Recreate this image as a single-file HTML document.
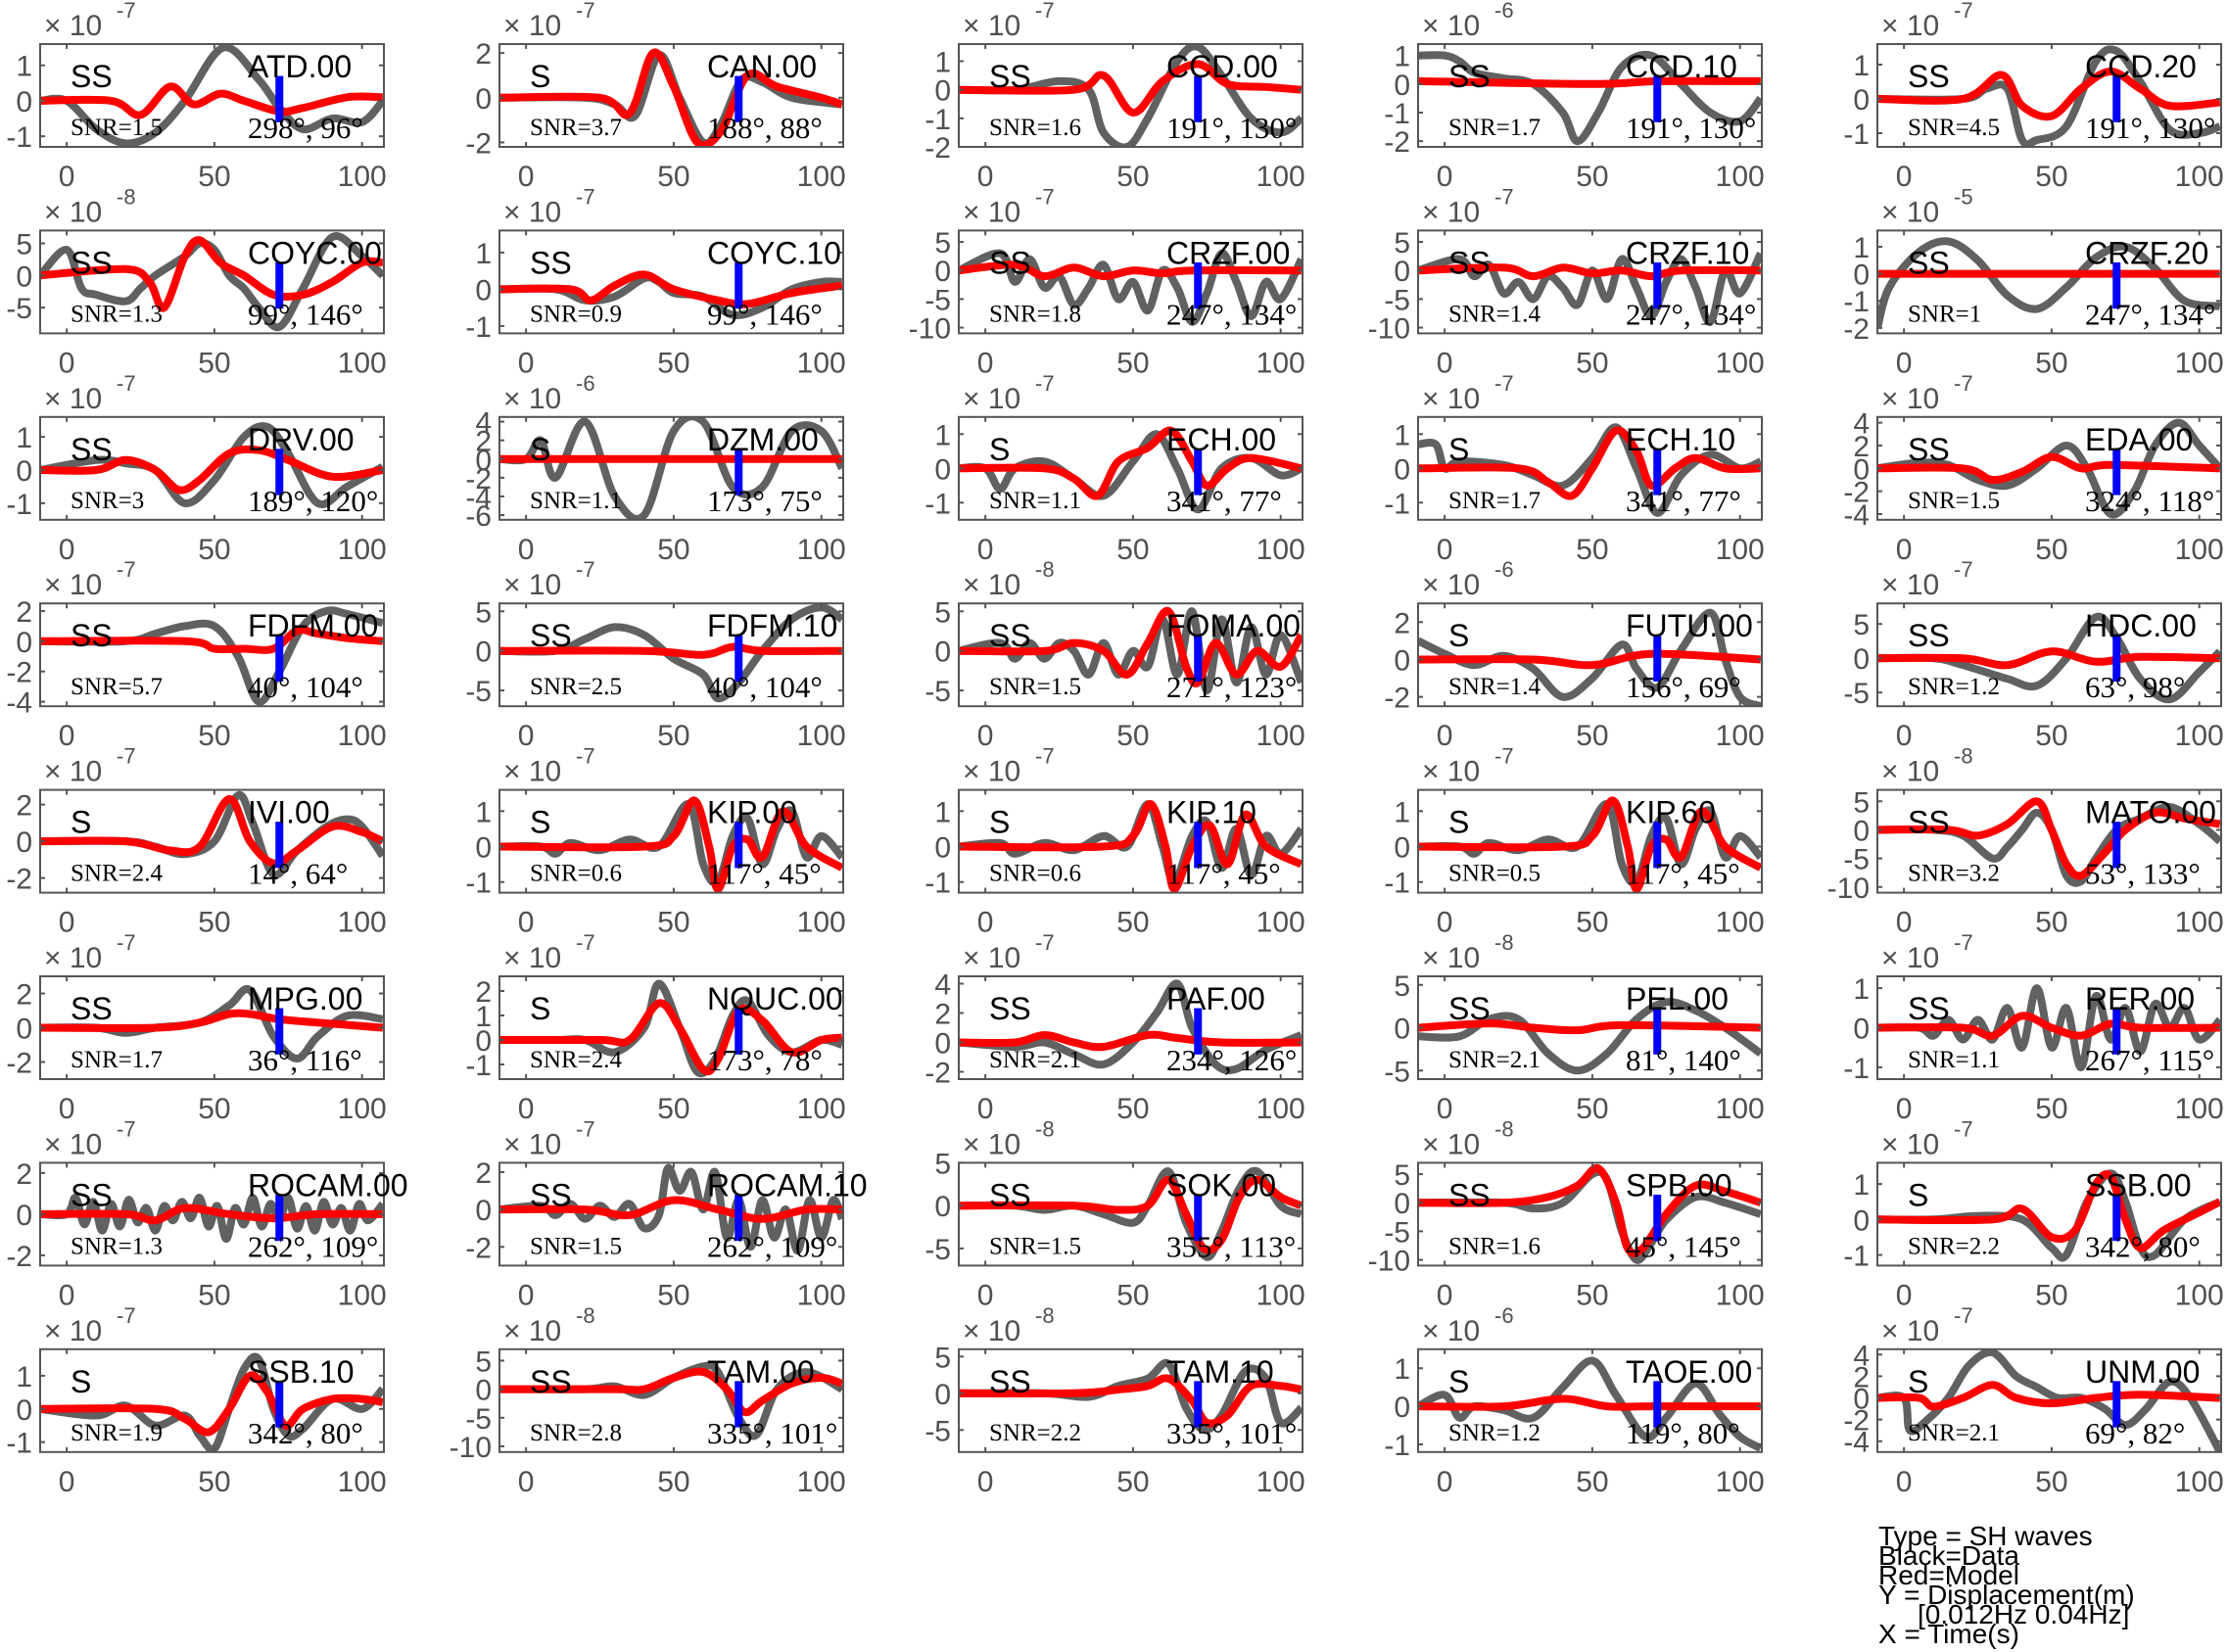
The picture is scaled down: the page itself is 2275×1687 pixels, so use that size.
<!DOCTYPE html>
<html><head><meta charset="utf-8">
<style>
html,body{margin:0;padding:0;background:#fff;}
svg{display:block;}
.tk{font-family:"Liberation Sans",sans-serif;font-size:30px;fill:#505050;}
.nm{font-family:"Liberation Sans",sans-serif;font-size:32px;fill:#000;}
.sr{font-family:"Liberation Serif",serif;fill:#000;}
.lg{font-family:"Liberation Sans",sans-serif;font-size:28px;fill:#000;}
</style></head><body>
<svg id="s" width="2275" height="1687" xmlns="http://www.w3.org/2000/svg"></svg>
<script>
const P=[
["ATD.00","SS","1.5","298°, 96°",-7,[1,0,-1],-1.3,1.6,
[[-9,0],[0,0],[10,-0.8],[20,-1.2],[30,-0.9],[40,0],[53,1.5],[65,0.6],[72,-0.2],[80,-0.8],[90,-0.5],[100,-0.6],[107,0]],
[[-9,0],[15,0],[25,-0.4],[35,0.4],[43,-0.1],[52,0.2],[60,0],[72,-0.3],[80,-0.2],[95,0.1],[107,0.1]]],
["CAN.00","S","3.7","188°, 88°",-7,[2,0,-2],-2.2,2.4,
[[-9,0],[20,0],[30,-0.3],[37,-0.8],[45,1.9],[52,0],[60,-2],[66,-1.2],[73,0.8],[80,0.7],[90,0],[107,-0.3]],
[[-9,0],[25,0],[35,-0.7],[43,2],[50,0.5],[58,-2],[66,-1.5],[75,1.0],[85,0.5],[100,0],[107,-0.3]]],
["CCD.00","SS","1.6","191°, 130°",-7,[1,0,-1,-2],-2,1.6,
[[-9,0],[10,0],[25,0.3],[35,0],[40,-1.5],[48,-2],[55,-1],[65,1],[72,1.5],[80,0.5],[90,-1],[100,-1.5],[107,-1]],
[[-9,0],[30,0],[40,0.5],[50,-0.8],[60,0.3],[72,0.9],[82,0.2],[95,0.1],[107,0]]],
["CCD.10","SS","1.7","191°, 130°",-6,[1,0,-1,-2],-2.2,1.4,
[[-9,1],[0,1],[5,0.8],[10,0.4],[20,0.2],[30,0],[40,-1],[45,-2],[52,-1],[60,0.6],[70,1],[80,0],[90,-1],[100,-1.3],[107,-0.5]],
[[-9,0.1],[50,0],[72,0.1],[107,0.1]]],
["CCD.20","SS","4.5","191°, 130°",-7,[1,0,-1],-1.4,1.6,
[[-9,0],[20,0],[28,0.3],[35,0.3],[40,-1.2],[45,-1.2],[55,-0.8],[65,1.1],[72,1.4],[80,0.5],[90,-0.9],[100,-1],[107,-0.8]],
[[-9,0],[20,0],[33,0.7],[40,-0.2],[50,-0.5],[60,0.3],[70,0.8],[80,0.3],[90,-0.2],[107,-0.1]]],
["COYC.00","SS","1.3","99°, 146°",-8,[5,0,-5],-9,7,
[[-9,0],[0,4],[5,-2],[10,-3],[20,-4],[25,-2],[30,0],[40,3],[45,5],[50,4],[55,0],[60,-2],[65,-5],[72,-8],[80,-2],[90,6],[100,3],[107,0]],
[[-9,0],[20,1],[28,-1],[33,-5],[40,3],[45,5.5],[52,2],[60,0],[70,-3],[80,-3],[90,-1],[100,2],[107,2]]],
["COYC.10","SS","0.9","99°, 146°",-7,[1,0,-1],-1.2,1.6,
[[-9,0],[10,0],[20,-0.3],[30,-0.2],[40,0.3],[45,0.2],[50,-0.1],[60,-0.2],[70,-0.7],[80,-0.5],[90,0],[100,0.2],[107,0.2]],
[[-9,0],[15,0],[22,-0.3],[30,0.1],[40,0.4],[50,0],[65,-0.3],[75,-0.4],[90,-0.1],[107,0.1]]],
["CRZF.00","SS","1.8","247°, 134°",-7,[5,0,-5,-10],-11,7,
[[-9,0],[5,3],[10,-2],[15,2],[20,-3],[25,-1],[30,-6],[35,-3],[40,1],[45,-5],[50,-2],[55,-7],[60,0],[65,-3],[70,-9],[75,-4],[80,3],[85,-2],[90,-8],[95,-2],[100,-5],[107,2]],
[[-9,0],[10,1],[20,-1],[30,0.5],[40,-1],[50,0],[60,-0.5],[70,0],[107,0]]],
["CRZF.10","SS","1.4","247°, 134°",-7,[5,0,-5,-10],-11,7,
[[-9,0],[5,2],[10,-1],[15,1],[20,-4],[25,-2],[30,-5],[35,-1],[40,-3],[45,-6],[50,0],[55,-5],[60,2],[65,-3],[70,-8],[75,-2],[80,2],[85,-3],[90,-9],[95,0],[100,-4],[107,3]],
[[-9,0],[20,0.5],[30,-1],[40,0.5],[50,-0.5],[60,0],[70,-1],[80,0],[107,0]]],
["CRZF.20","SS","1","247°, 134°",-5,[1,0,-1,-2],-2.2,1.6,
[[-9,-2],[-5,-0.5],[5,0.8],[15,1.2],[25,0.5],[35,-0.8],[45,-1.3],[55,-0.5],[65,0.6],[75,1],[85,0.2],[95,-1],[107,-1.2]],
[[-9,0],[107,0]]],
["DRV.00","SS","3","189°, 120°",-7,[1,0,-1],-1.5,1.6,
[[-9,0],[10,0.3],[20,0.2],[30,0],[40,-1],[50,-0.3],[60,1],[68,1.3],[75,0.5],[85,-1],[95,-0.5],[107,0.1]],
[[-9,0],[10,0],[20,0.3],[30,0],[38,-0.6],[45,-0.3],[55,0.5],[65,0.6],[75,0.3],[90,-0.2],[107,0]]],
["DZM.00","S","1.1","173°, 75°",-6,[4,2,0,-2,-4,-6],-6.5,4.5,
[[-9,0],[0,0],[5,2],[10,-2],[20,4],[30,-4],[40,-6],[50,3],[60,4],[70,-3],[80,-3],[90,3],[100,3],[107,-1]],
[[-9,0],[107,0]]],
["ECH.00","S","1.1","341°, 77°",-7,[1,0,-1],-1.5,1.5,
[[-9,0],[0,0],[5,-0.6],[10,0],[20,0.2],[30,-0.3],[40,-0.8],[50,0.2],[58,1],[65,0],[72,-1.2],[80,0],[90,0.3],[100,-0.2],[107,0]],
[[-9,0],[20,0],[30,-0.3],[38,-0.8],[45,0.2],[55,0.6],[63,1.1],[70,0.2],[75,-0.5],[82,0],[90,0.3],[107,0]]],
["ECH.10","S","1.7","341°, 77°",-7,[1,0,-1],-1.5,1.5,
[[-9,0.7],[-3,0.7],[0,0],[5,0.2],[20,0.1],[30,-0.2],[40,-0.5],[50,0.3],[58,1.2],[65,0],[72,-1.3],[80,-0.2],[90,0.4],[100,0],[107,0.2]],
[[-9,0],[25,0],[35,-0.4],[43,-0.8],[50,0],[58,1.1],[65,0.5],[70,-0.5],[78,0],[85,0.3],[95,0],[107,0]]],
["EDA.00","SS","1.5","324°, 118°",-7,[4,2,0,-2,-4],-4.5,4.5,
[[-9,0],[5,0.5],[15,0.3],[25,-1],[35,-1.5],[45,0],[55,2],[62,0],[70,-4],[78,-2],[85,2],[93,4],[100,2],[107,0]],
[[-9,0],[20,0],[30,-1],[40,-0.3],[50,1],[60,0],[70,0.3],[107,0]]],
["FDFM.00","SS","5.7","40°, 104°",-7,[2,0,-2,-4],-4.3,2.5,
[[-9,0],[20,0],[30,0.5],[40,1],[50,1],[58,-1],[65,-4],[72,-2],[80,1],[88,2],[95,1.8],[107,1.2]],
[[-9,0],[40,0],[50,-0.5],[60,-0.5],[70,-0.5],[78,0.7],[85,0.5],[95,0.2],[107,0]]],
["FDFM.10","SS","2.5","40°, 104°",-7,[5,0,-5],-7,6,
[[-9,0],[10,0],[20,1.5],[30,3],[40,2],[50,-1],[60,-3],[65,-6],[72,-4],[80,0],[90,4],[100,5.5],[107,4]],
[[-9,0],[40,0],[60,-0.5],[70,0.5],[80,0],[107,0]]],
["FOMA.00","SS","1.5","271°, 123°",-8,[5,0,-5],-7,6,
[[-9,0],[5,1],[10,-1],[15,1],[20,-1],[25,1],[30,0],[35,-3],[40,1],[45,-3],[50,0],[55,-2],[60,4],[65,-3],[70,5],[75,-5],[80,4],[85,-4],[90,3],[95,-3],[100,2],[107,-4]],
[[-9,0],[20,0],[30,1],[40,0],[48,-3],[55,1],[62,5],[68,-2],[72,-4],[78,1],[85,-3],[92,0],[100,-2],[107,2]]],
["FUTU.00","S","1.4","156°, 69°",-6,[2,0,-2],-2.5,3,
[[-9,1],[0,0.3],[10,-0.3],[20,0.2],[30,-0.5],[40,-2],[50,-1],[60,0.8],[65,-0.5],[72,-1.5],[80,0.5],[90,2.5],[95,0],[100,-2],[107,-2.5]],
[[-9,0],[30,0],[50,-0.3],[70,0.3],[107,0]]],
["HDC.00","SS","1.2","63°, 98°",-7,[5,0,-5],-7,8,
[[-9,0],[10,0],[20,-1],[35,-3],[45,-4],[55,0],[65,6],[72,3],[80,-3],[90,-6],[100,-2],[107,1]],
[[-9,0],[20,0],[35,-1],[50,1],[65,-0.5],[80,0.2],[107,0]]],
["IVI.00","S","2.4","14°, 64°",-7,[2,0,-2],-2.8,2.8,
[[-9,0],[20,0],[30,-0.3],[40,-0.7],[50,0],[58,2.5],[63,1],[70,-1.8],[78,-0.5],[88,0.8],[95,1.2],[100,0.8],[107,-0.8]],
[[-9,0],[20,0],[35,-0.5],[45,-0.3],[55,2.3],[62,0],[70,-1.2],[78,-0.5],[90,0.8],[100,0.5],[107,0]]],
["KIP.00","S","0.6","117°, 45°",-7,[1,0,-1],-1.3,1.6,
[[-9,0],[5,0],[10,-0.2],[15,0.1],[25,-0.1],[35,0.2],[45,0],[55,1.2],[60,-0.5],[65,-1],[70,0.3],[75,0.8],[80,-0.5],[85,0.5],[90,1],[95,-0.3],[100,0.3],[107,-0.3]],
[[-9,0],[40,0],[50,0.3],[57,1.3],[62,0],[65,-1.2],[70,0],[75,0.2],[80,-0.3],[87,1],[95,0],[107,-0.6]]],
["KIP.10","S","0.6","117°, 45°",-7,[1,0,-1],-1.3,1.6,
[[-9,0],[5,0.1],[10,-0.2],[20,0.1],[30,-0.1],[40,0.3],[48,0],[55,1.2],[60,0],[64,-1],[70,0.3],[75,0.7],[80,-0.6],[85,0.5],[90,-0.8],[95,0.3],[100,-0.2],[107,0.5]],
[[-9,0],[40,0],[50,0.3],[56,1.2],[61,0],[64,-1.2],[70,0],[76,0.6],[82,-0.5],[88,0.9],[95,0],[107,-0.5]]],
["KIP.60","S","0.5","117°, 45°",-7,[1,0,-1],-1.3,1.6,
[[-9,0],[5,0],[10,-0.2],[15,0.1],[25,-0.1],[35,0.2],[45,0],[55,1.2],[60,-0.5],[65,-1],[70,0.3],[75,0.8],[80,-0.5],[85,0.5],[90,1],[95,-0.3],[100,0.3],[107,-0.3]],
[[-9,0],[40,0],[50,0.3],[57,1.3],[62,0],[65,-1.2],[70,0],[75,0.2],[80,-0.3],[87,1],[95,0],[107,-0.6]]],
["MATO.00","SS","3.2","53°, 133°",-8,[5,0,-5,-10],-11,7,
[[-9,0],[10,0],[20,-1],[30,-5],[35,-3],[40,0],[45,3],[50,0],[55,-8],[60,-9],[65,-5],[72,0],[80,2],[90,4],[100,1],[107,-2]],
[[-9,0],[15,0],[25,-1],[35,1],[45,5],[50,0],[55,-6],[60,-8],[68,-4],[75,0],[85,3],[95,2],[107,1]]],
["MPG.00","SS","1.7","36°, 116°",-7,[2,0,-2],-3,3,
[[-9,0],[10,0],[20,-0.3],[30,0],[45,0.3],[55,1.3],[62,2.2],[70,-0.5],[78,-1.8],[85,-0.5],[95,0.7],[107,0.5]],
[[-9,0],[30,0],[45,0.3],[55,0.8],[62,0.8],[72,0.5],[85,0.3],[107,0]]],
["NQUC.00","S","2.4","173°, 78°",-7,[2,1,0,-1],-1.6,2.6,
[[-9,0],[10,0],[20,0],[30,-0.5],[40,0.5],[45,2.3],[52,0.5],[58,-1.3],[64,-0.8],[70,1],[75,1.6],[82,0.2],[90,-0.5],[100,0],[107,-0.2]],
[[-9,0],[25,0],[35,0],[45,1.5],[52,0.5],[60,-1.2],[65,-0.8],[72,1.2],[80,0.8],[90,-0.5],[100,0],[107,0.1]]],
["PAF.00","SS","2.1","234°, 126°",-7,[4,2,0,-2],-2.5,4.5,
[[-9,0],[10,-0.3],[20,0],[30,-0.8],[40,-1.5],[50,0],[58,2],[65,4],[70,1],[78,-1.5],[85,-1.8],[95,-0.5],[107,0.5]],
[[-9,0],[10,0],[20,0.5],[30,0],[40,-0.3],[55,0.5],[65,0.3],[80,0],[107,0]]],
["PEL.00","SS","2.1","81°, 140°",-8,[5,0,-5],-6,6,
[[-9,-1],[5,-1],[15,1],[25,1],[35,-3],[45,-5],[55,-3],[65,1],[75,3],[85,2],[95,0],[107,-3]],
[[-9,0],[15,0.5],[30,0],[45,-0.3],[60,0.3],[107,0]]],
["RER.00","SS","1.1","267°, 115°",-7,[1,0,-1],-1.3,1.3,
[[-9,0],[5,0],[10,-0.2],[15,0.2],[20,-0.3],[25,0.2],[30,-0.3],[35,0.5],[40,-0.5],[45,1],[50,-0.5],[55,0.5],[60,-1],[65,0.8],[70,-0.3],[75,0.5],[80,-0.6],[85,0.6],[90,0],[95,0.5],[100,-0.3],[107,0.2]],
[[-9,0],[20,0],[30,-0.2],[40,0.3],[50,0],[60,-0.2],[70,0.1],[80,0],[107,0]]],
["ROCAM.00","SS","1.3","262°, 109°",-7,[2,0,-2],-2.5,2.5,
[[-9,0],[0,0],[3,0.8],[6,-0.5],[9,0.6],[12,-0.8],[15,0.5],[18,-0.6],[21,0.7],[24,-0.4],[27,0.3],[30,-0.8],[33,0.4],[36,-0.3],[39,0.6],[42,-0.2],[45,0.8],[48,-0.6],[51,0.4],[54,-1.2],[57,0.3],[60,-0.5],[63,0.8],[66,-0.6],[69,0.5],[72,-0.3],[75,0.8],[78,-0.7],[81,0.4],[84,-0.8],[87,0.6],[90,-0.5],[93,0.3],[96,-0.8],[99,0.5],[102,-0.3],[107,0.5]],
[[-9,0],[20,0],[30,-0.3],[40,0.3],[55,0],[70,-0.2],[85,0],[107,0]]],
["ROCAM.10","SS","1.5","262°, 109°",-7,[2,0,-2],-3,2.5,
[[-9,0],[5,0.2],[10,-0.3],[15,0.3],[20,-0.5],[25,0.2],[30,-0.4],[35,0.3],[40,-1],[45,-0.3],[48,2.2],[52,1],[56,2],[60,0],[64,2],[68,-1.5],[72,0.5],[76,-2],[80,0.5],[84,-1.5],[88,0],[92,-2.2],[96,0.5],[100,-1.5],[104,0.5],[107,-0.5]],
[[-9,0],[20,0],[35,-0.3],[50,0.5],[65,0],[80,-0.5],[95,0],[107,0]]],
["SOK.00","SS","1.5","355°, 113°",-8,[5,0,-5],-7,5,
[[-9,0],[10,0],[20,-0.5],[30,0],[40,-1],[50,-2],[55,0],[62,4],[68,-2],[75,-6],[80,-3],[86,2],[92,4],[100,0],[107,-1]],
[[-9,0],[30,0],[45,-0.5],[55,0],[62,3],[68,-1],[74,-5],[80,-4],[86,1],[92,3],[100,1],[107,0]]],
["SPB.00","SS","1.6","45°, 145°",-8,[5,0,-5,-10],-11,7,
[[-9,0],[20,0],[30,-1],[40,0],[50,5],[55,4],[60,-5],[65,-10],[70,-7],[75,-3],[85,1],[95,0],[107,-2]],
[[-9,0],[20,0],[35,1],[45,3],[52,6],[58,0],[62,-8],[67,-8],[75,-2],[85,3],[95,2],[107,0]]],
["SSB.00","S","2.2","342°, 80°",-7,[1,0,-1],-1.3,1.6,
[[-9,0],[10,0],[25,0.1],[40,0],[50,-0.8],[55,-1],[62,0.5],[70,1.3],[75,0.5],[80,-0.8],[85,-1],[95,0],[107,0.5]],
[[-9,0],[30,0],[40,0.3],[50,-0.5],[58,-0.3],[65,1],[70,1.2],[75,0],[80,-0.8],[88,-0.3],[100,0.2],[107,0.5]]],
["SSB.10","S","1.9","342°, 80°",-7,[1,0,-1],-1.3,1.8,
[[-9,0],[10,-0.2],[20,0.1],[30,-0.5],[40,-0.2],[45,-0.8],[50,-1.2],[55,0],[60,1.2],[65,1.5],[70,0],[75,-0.8],[80,-0.6],[90,0.3],[100,0],[107,0.6]],
[[-9,0],[30,0],[40,-0.3],[48,-0.7],[55,0],[62,1],[68,0.5],[74,-0.5],[80,0],[90,0.3],[100,0.3],[107,0.2]]],
["TAM.00","SS","2.8","335°, 101°",-8,[5,0,-5,-10],-11,7,
[[-9,0],[20,0],[30,0.5],[40,-1],[50,2],[60,4],[65,3],[72,-5],[78,-8],[85,0],[95,3],[107,0]],
[[-9,0],[30,0],[40,0],[50,2],[60,3],[68,0],[74,-4],[80,-2],[90,1],[100,2],[107,1]]],
["TAM.10","SS","2.2","335°, 101°",-8,[5,0,-5],-8,6,
[[-9,0],[20,0],[35,-0.5],[45,1],[55,2],[62,4],[68,-2],[74,-5],[80,-3],[88,3],[95,2],[100,-4],[107,-2]],
[[-9,0],[30,0],[45,0.5],[55,1],[62,2],[70,-1],[75,-4],[82,-3],[90,1],[100,1],[107,0.5]]],
["TAOE.00","S","1.2","119°, 80°",-6,[1,0,-1],-1.2,1.5,
[[-9,0],[0,0.3],[5,-0.3],[10,0],[20,-0.1],[30,-0.3],[40,0.5],[50,1.2],[58,0.3],[68,-0.8],[75,-0.3],[85,0.6],[93,-0.2],[100,-0.8],[107,-1.1]],
[[-9,0],[20,0],[40,0.2],[55,0],[70,0],[107,0]]],
["UNM.00","S","2.1","69°, 82°",-7,[4,2,0,-2,-4],-5,4.5,
[[-9,0],[0,0],[2,-3],[8,-2],[15,0],[22,3],[30,4.2],[38,2],[45,1],[52,0],[60,0],[68,-1],[75,-2.5],[82,-1],[90,1.5],[97,0],[107,-5]],
[[-9,0],[5,0],[10,-0.8],[20,0],[30,1.2],[38,0],[50,-0.5],[65,0],[80,0.3],[107,0]]]
];
const NS="http://www.w3.org/2000/svg";
const S=document.getElementById("s");
let h="";
h+='<defs>';
const W=351,H=105,t0=-9,t1=107.4;
P.forEach((p,i)=>{const c=i%5,r=Math.floor(i/5);const L=41+c*469,T=45+r*190.4;
h+=`<clipPath id="c${i}"><rect x="${L}" y="${T}" width="${W}" height="${H}"/></clipPath>`;});
h+='</defs>';
function path(pts,X,Y){const q=pts.map(a=>[X(a[0]),Y(a[1])]);let d=`M${q[0][0].toFixed(1)},${q[0][1].toFixed(1)}`;
for(let k=0;k<q.length-1;k++){const p0=q[Math.max(0,k-1)],p1=q[k],p2=q[k+1],p3=q[Math.min(q.length-1,k+2)];
const c1=[p1[0]+(p2[0]-p0[0])/6,p1[1]+(p2[1]-p0[1])/6],c2=[p2[0]-(p3[0]-p1[0])/6,p2[1]-(p3[1]-p1[1])/6];
d+=`C${c1[0].toFixed(1)},${c1[1].toFixed(1)} ${c2[0].toFixed(1)},${c2[1].toFixed(1)} ${p2[0].toFixed(1)},${p2[1].toFixed(1)}`;}
return d;}
P.forEach((p,i)=>{const [nm,ph,snr,ang,ex,tk,ymin,ymax,g,rd]=p;const c=i%5,r=Math.floor(i/5);const L=41+c*469,T=45+r*190.4;
const X=t=>L+(t-t0)*W/(t1-t0),Y=v=>T+(ymax-v)/(ymax-ymin)*H;
h+=`<rect x="${L}" y="${T}" width="${W}" height="${H}" fill="#fff"/>`;
h+=`<g clip-path="url(#c${i})"><path d="${path(g,X,Y)}" fill="none" stroke="#616161" stroke-width="8" stroke-linejoin="round"/>`;
h+=`<path d="${path(rd,X,Y)}" fill="none" stroke="#ff0000" stroke-width="8" stroke-linejoin="round"/></g>`;
h+=`<rect x="${X(72)-4}" y="${T+0.31*H}" width="8" height="${0.45*H}" fill="#0000ff"/>`;
h+=`<rect x="${L}" y="${T}" width="${W}" height="${H}" fill="none" stroke="#555" stroke-width="2"/>`;
[0,50,100].forEach(t=>{const x=X(t);h+=`<line x1="${x}" y1="${T}" x2="${x}" y2="${T+5}" stroke="#555" stroke-width="2"/><line x1="${x}" y1="${T+H}" x2="${x}" y2="${T+H-5}" stroke="#555" stroke-width="2"/>`;
h+=`<text class="tk" x="${x}" y="${T+145}" text-anchor="middle">${t}</text>`;});
tk.forEach(v=>{const y=Y(v);h+=`<line x1="${L}" y1="${y}" x2="${L+5}" y2="${y}" stroke="#555" stroke-width="2"/><line x1="${L+W}" y1="${y}" x2="${L+W-5}" y2="${y}" stroke="#555" stroke-width="2"/>`;
h+=`<text class="tk" x="${L-8}" y="${y+11}" text-anchor="end">${v}</text>`;});
h+=`<text class="tk" x="${L+4}" y="${T-9}">× 10</text><text class="tk" style="font-size:22px" x="${L+78}" y="${T-27}">${ex}</text>`;
h+=`<text class="nm" x="${L+31}" y="${T+44}">${ph}</text>`;
h+=`<text class="nm" x="${L+212}" y="${T+34}">${nm}</text>`;
h+=`<text class="sr" style="font-size:25px" x="${L+31}" y="${T+93}">SNR=${snr}</text>`;
h+=`<text class="sr" style="font-size:31px" x="${L+212}" y="${T+96}">${ang}</text>`;
});
const lg=[["Type = SH waves",1918,1578],["Black=Data",1918,1598],["Red=Model",1918,1618],["Y = Displacement(m)",1918,1638],["[0.012Hz 0.04Hz]",1958,1658],["X = Time(s)",1918,1678]];
lg.forEach(a=>{h+=`<text class="lg" x="${a[1]}" y="${a[2]}">${a[0]}</text>`;});
S.innerHTML=h;
</script>
</body></html>
